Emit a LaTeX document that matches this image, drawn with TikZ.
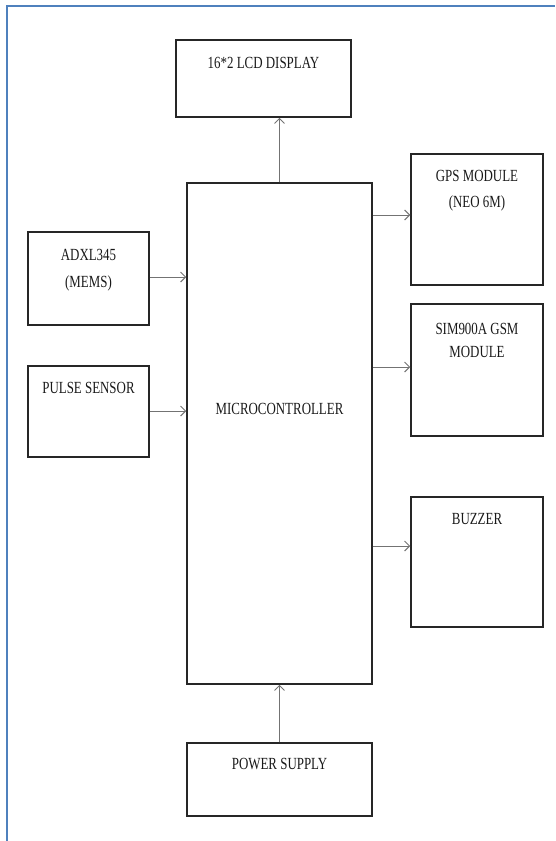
\documentclass[tikz,border=0pt]{standalone}
\usepackage{fontspec}
\setmainfont{Liberation Serif}[FakeStretch=0.76]
\usetikzlibrary{arrows.meta}
\definecolor{framecol}{RGB}{79,129,189}
\tikzset{
  blk/.style={draw=black!85, line width=1.5pt, rectangle, inner sep=0pt},
  lbl/.style={anchor=base, align=center, inner sep=0pt, font=\fontsize{17}{25}\selectfont, text=black!90},
  arr/.style={draw=black!55, line width=1pt, -{Straight Barb[length=5pt,width=10pt]}},
}
\begin{document}
\begin{tikzpicture}[x=1pt,y=-1pt]
\useasboundingbox (0,0) rectangle (555,841);
\draw[framecol, line width=2pt] (7,841) -- (7,6) -- (555,6);

\node[blk, minimum width=175pt, minimum height=77pt,
  label={[lbl, yshift=-29pt]north:16*2 LCD DISPLAY}] (lcd) at (263.5,78.5) {};
\node[blk, minimum width=185pt, minimum height=501pt,
  label={[lbl, yshift=-232pt]north:MICROCONTROLLER}] (mc) at (279.5,433.5) {};
\node[blk, minimum width=185pt, minimum height=73pt,
  label={[lbl, yshift=-27pt]north:POWER SUPPLY}] (ps) at (279.5,779.5) {};
\node[blk, minimum width=121pt, minimum height=93pt,
  label={[lbl, font=\fontsize{17}{27}\selectfont, yshift=-56pt]north:ADXL345\\(MEMS)}] (adxl) at (88.5,278.5) {};
\node[blk, minimum width=121pt, minimum height=91pt,
  label={[lbl, yshift=-28pt]north:PULSE SENSOR}] (pulse) at (88.5,411.5) {};
\node[blk, minimum width=132pt, minimum height=131pt,
  label={[lbl, font=\fontsize{17}{26}\selectfont, yshift=-54pt]north:GPS MODULE\\(NEO 6M)}] (gps) at (477,219.5) {};
\node[blk, minimum width=132pt, minimum height=132pt,
  label={[lbl, font=\fontsize{17}{23}\selectfont, yshift=-54pt]north:SIM900A GSM\\MODULE}] (sim) at (477,370) {};
\node[blk, minimum width=132pt, minimum height=130pt,
  label={[lbl, yshift=-28pt]north:BUZZER}] (buzz) at (477,562) {};

\draw[arr] (mc.north) -- (mc.north |- lcd.south);
\draw[arr] (ps.north) -- (mc.south);
\draw[arr] (adxl.east |- 0,277) -- (mc.west |- 0,277);
\draw[arr] (pulse.east |- 0,411) -- (mc.west |- 0,411);
\draw[arr] (mc.east |- 0,215) -- (gps.west |- 0,215);
\draw[arr] (mc.east |- 0,367) -- (sim.west |- 0,367);
\draw[arr] (mc.east |- 0,546) -- (buzz.west |- 0,546);
\end{tikzpicture}
\end{document}
